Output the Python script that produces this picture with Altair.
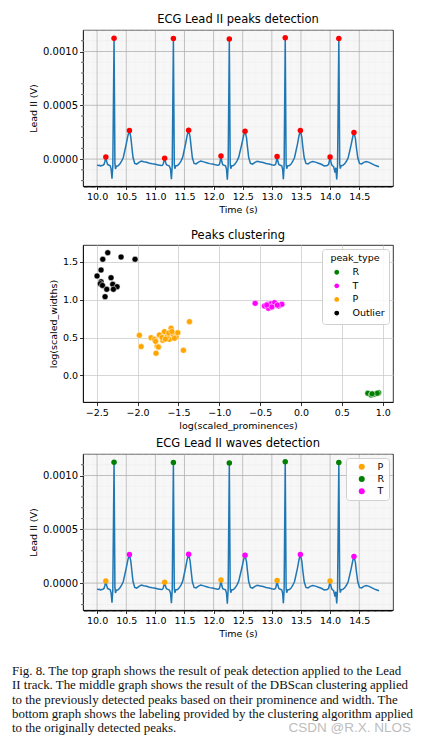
import altair as alt
import pandas as pd
import numpy as np

# ---------------- data ----------------
# ECG Lead II trace: (time s, value in microvolts)
ecg_points = [
    (10.000, -56), (10.020, -60), (10.040, -58), (10.060, -64), (10.080, -60), (10.100, -58),
    (10.120, -48), (10.135, -20), (10.150, 19), (10.165, -22), (10.180, -50), (10.200, -55),
    (10.225, -62), (10.240, -90), (10.256, -182), (10.270, -60), (10.291, 1124), (10.306, -40),
    (10.316, -92), (10.330, -66), (10.360, -62), (10.390, -46), (10.420, -20), (10.450, 15),
    (10.500, 140), (10.530, 220), (10.555, 266), (10.580, 200), (10.595, 120), (10.617, 15),
    (10.646, -40), (10.680, -46), (10.720, -30), (10.760, -18), (10.800, -24), (10.850, -30),
    (10.900, -38), (10.950, -44), (11.000, -48), (11.050, -54), (11.100, -60),
    (11.120, -58), (11.135, -46), (11.148, -18), (11.160, 9), (11.173, -25), (11.190, -52),
    (11.215, -58), (11.240, -64), (11.260, -92), (11.276, -186), (11.290, -62), (11.310, 1120),
    (11.325, -42), (11.335, -90), (11.350, -64), (11.380, -60), (11.410, -44), (11.440, -18),
    (11.470, 18), (11.520, 145), (11.548, 225), (11.572, 269), (11.597, 205), (11.612, 125),
    (11.635, 15), (11.665, -40), (11.700, -44), (11.740, -28), (11.780, -18), (11.830, -26),
    (11.880, -34), (11.930, -42), (11.980, -46), (12.030, -52), (12.070, -56),
    (12.090, -55), (12.103, -44), (12.115, -14), (12.127, 28), (12.140, -20), (12.157, -52),
    (12.180, -58), (12.205, -62), (12.222, -95), (12.236, -192), (12.250, -60), (12.270, 1116),
    (12.285, -44), (12.295, -90), (12.310, -64), (12.340, -60), (12.370, -44), (12.400, -18),
    (12.430, 16), (12.485, 140), (12.515, 218), (12.540, 260), (12.565, 200), (12.580, 120),
    (12.603, 14), (12.633, -40), (12.670, -46), (12.710, -30), (12.750, -20), (12.800, -26),
    (12.850, -32), (12.900, -40), (12.950, -46), (13.000, -52), (13.040, -56),
    (13.055, -54), (13.067, -44), (13.079, -14), (13.090, 25), (13.103, -20), (13.120, -50),
    (13.145, -58), (13.170, -62), (13.186, -95), (13.198, -188), (13.211, -60), (13.230, 1128),
    (13.245, -44), (13.255, -90), (13.270, -64), (13.300, -60), (13.330, -46), (13.360, -20),
    (13.390, 15), (13.440, 140), (13.468, 222), (13.490, 266), (13.515, 202), (13.530, 122),
    (13.555, 15), (13.585, -40), (13.620, -44), (13.660, -30), (13.700, -22), (13.750, -28),
    (13.800, -38), (13.850, -48), (13.900, -64), (13.950, -60),
    (13.975, -48), (13.988, -16), (14.000, 19), (14.013, -22), (14.030, -56), (14.060, -70),
    (14.085, -124), (14.098, -80), (14.114, -190), (14.128, -60), (14.150, 1120), (14.165, -44),
    (14.175, -88), (14.190, -62), (14.220, -58), (14.250, -44), (14.280, -20), (14.310, 12),
    (14.360, 130), (14.388, 205), (14.410, 248), (14.435, 190), (14.450, 115), (14.475, 12),
    (14.505, -40), (14.540, -44), (14.580, -30), (14.620, -22), (14.670, -30), (14.720, -44),
    (14.780, -60), (14.840, -71),
]

# detected peaks
peak_type = ["P"] * 5 + ["R"] * 5 + ["T"] * 5
peak_time = [10.150, 11.160, 12.127, 13.090, 14.000,
             10.291, 11.310, 12.270, 13.230, 14.150,
             10.555, 11.572, 12.540, 13.490, 14.410]
peak_uv = [19, 9, 28, 25, 19,
           1124, 1120, 1116, 1128, 1120,
           266, 269, 260, 266, 248]

# clustering scatter: log(scaled_prominences), log(scaled_widths)
outlier_pts = [(-2.365, 1.623), (-2.426, 1.536), (-2.202, 1.566), (-2.031, 1.536), (-2.447, 1.394),
               (-2.496, 1.315), (-2.447, 1.239), (-2.456, 1.213), (-2.430, 1.190), (-2.325, 1.292),
               (-2.304, 1.205), (-2.251, 1.173), (-2.377, 1.139), (-2.296, 1.139), (-2.398, 1.041)]
p_pts = [(-1.365, 0.710), (-1.978, 0.530), (-1.957, 0.380), (-1.439, 0.331), (-1.774, 0.292),
         (-1.761, 0.388), (-1.745, 0.375), (-1.835, 0.498), (-1.794, 0.477), (-1.733, 0.534),
         (-1.692, 0.464), (-1.672, 0.578), (-1.610, 0.477), (-1.590, 0.622), (-1.569, 0.543),
         (-1.527, 0.507), (-1.508, 0.565), (-1.640, 0.510), (-1.700, 0.500), (-1.550, 0.490),
         (-1.620, 0.560), (-1.780, 0.450), (-1.660, 0.480), (-1.580, 0.580)]
t_pts = [(-0.561, 0.953), (-0.447, 0.918), (-0.398, 0.887), (-0.406, 0.940), (-0.365, 0.949),
         (-0.333, 0.931), (-0.304, 0.940), (-0.276, 0.918), (-0.235, 0.940), (-0.324, 0.962),
         (-0.357, 0.905), (-0.290, 0.930), (-0.420, 0.930)]
r_pts = [(0.818, -0.238), (0.859, -0.260), (0.892, -0.251), (0.949, -0.229), (0.933, -0.238),
         (0.870, -0.245)]

cluster_order = ["R", "T", "P", "Outlier"]
cluster_colors = ["green", "magenta", "orange", "black"]
wave_order = ["P", "R", "T"]
wave_colors = ["orange", "green", "magenta"]

caption_lines = [
    "Fig. 8.  The top graph shows the result of peak detection applied to the Lead",
    "II track. The middle graph shows the result of the DBScan clustering applied",
    "to the previously detected peaks based on their prominence and width. The",
    "bottom graph shows the labeling provided by the clustering algorithm applied",
    "to the originally detected peaks.",
]
watermark = "CSDN @R.X. NLOS"

# tick values
ecg_x_major = [10.0, 10.5, 11.0, 11.5, 12.0, 12.5, 13.0, 13.5, 14.0, 14.5]
ecg_y_major = [0.0, 0.0005, 0.001]
ecg_x_minor = [v for v in np.round(np.arange(9.78, 15.07, 0.02), 2).tolist()
               if v not in ecg_x_major]
ecg_y_minor = [v for v in np.round(np.arange(-0.0002, 0.00115, 0.0001), 4).tolist()
               if v not in ecg_y_major]
clu_x_ticks = [-2.5, -2.0, -1.5, -1.0, -0.5, 0.0, 0.5, 1.0]
clu_y_ticks = [0.0, 0.5, 1.0, 1.5]

# ---------------- tables ----------------
ecg = pd.DataFrame(ecg_points, columns=["t", "uv"])
ecg["v"] = ecg["uv"] / 1e6
peaks = pd.DataFrame({"t": peak_time, "v": np.array(peak_uv) / 1e6, "type": peak_type})
clu_rows = []
for name, pts in [("R", r_pts), ("T", t_pts), ("P", p_pts), ("Outlier", outlier_pts)]:
    for px, py in pts:
        clu_rows.append({"prom": px, "width": py, "peak_type": name})
clu = pd.DataFrame(clu_rows)
cap = pd.DataFrame({"line": caption_lines, "i": list(range(len(caption_lines)))})
wm = pd.DataFrame({"text": [watermark], "i": [len(caption_lines) - 1]})
gx_minor = pd.DataFrame({"t": ecg_x_minor})
gx_major = pd.DataFrame({"t": ecg_x_major})
gy_minor = pd.DataFrame({"v": ecg_y_minor})
gy_major = pd.DataFrame({"v": ecg_y_major})

W = 310
H1, H2, H3 = 156, 157, 156
SERIF = "Liberation Serif"

XDOM = [9.758, 15.08]
YDOM = [-0.00025, 0.0012]

X_AXIS = alt.Axis(values=ecg_x_major, format=".1f", title="Time (s)", grid=False,
                  tickSize=3.5, labelPadding=2, titlePadding=3, labelFlush=False,
                  labelOverlap=False, labelSeparation=0)
Y_AXIS = alt.Axis(values=ecg_y_major, format=".4f", title="Lead II (V)", grid=False,
                  tickSize=3.5, labelPadding=2, titlePadding=4, labelFlush=False,
                  labelOverlap=False, labelFontSize=10)


def ex():
    return alt.X("t:Q", scale=alt.Scale(domain=XDOM, nice=False, zero=False), axis=X_AXIS)


def ey():
    return alt.Y("v:Q", scale=alt.Scale(domain=YDOM, nice=False, zero=False), axis=Y_AXIS)


def ecg_layers(h):
    return [
        alt.Chart(gx_minor).mark_rule(color="#ebebeb", strokeWidth=0.5).encode(x=ex()),
        alt.Chart(gy_minor).mark_rule(color="#ebebeb", strokeWidth=0.5).encode(y=ey()),
        alt.Chart(gx_major).mark_rule(color="#b0b0b0", strokeWidth=0.8).encode(x=ex()),
        alt.Chart(gy_major).mark_rule(color="#b0b0b0", strokeWidth=0.8).encode(y=ey()),
        alt.Chart(ecg).mark_line(color="#1f77b4", strokeWidth=1.5).encode(x=ex(), y=ey()),
        alt.Chart(gx_minor).mark_rule(color="black", strokeWidth=0.6).encode(
            x=ex(), y=alt.value(h), y2=alt.value(h + 2)),
        alt.Chart(gy_minor).mark_rule(color="black", strokeWidth=0.6).encode(
            y=ey(), x=alt.value(0), x2=alt.value(-2)),
    ]


p1 = alt.layer(
    *ecg_layers(H1),
    alt.Chart(peaks).mark_circle(color="red", size=30, opacity=1).encode(x=ex(), y=ey()),
).properties(width=W, height=H1, title="ECG Lead II peaks detection")

minus = "replace(format(datum.value, '.1f'), '-', '\u2212')"
p2 = alt.Chart(clu).mark_circle(size=36, opacity=1, stroke="white", strokeWidth=0.5).encode(
    x=alt.X("prom:Q", scale=alt.Scale(domain=[-2.668, 1.126], nice=False, zero=False),
            axis=alt.Axis(values=clu_x_ticks, labelExpr=minus, title="log(scaled_prominences)",
                          gridColor="#cccccc", gridWidth=0.8, tickSize=3.5, labelPadding=2,
                          titlePadding=3, labelFlush=False, labelOverlap=False)),
    y=alt.Y("width:Q", scale=alt.Scale(domain=[-0.353, 1.725], nice=False, zero=False),
            axis=alt.Axis(values=clu_y_ticks, labelExpr=minus, title="log(scaled_widths)",
                          gridColor="#cccccc", gridWidth=0.8, tickSize=3.5, labelPadding=2,
                          titlePadding=4, labelFlush=False, labelOverlap=False)),
    color=alt.Color("peak_type:N", scale=alt.Scale(domain=cluster_order, range=cluster_colors),
                    legend=alt.Legend(orient="none", legendX=239, legendY=4, title="peak_type",
                                      titleAnchor="middle", titlePadding=5, padding=4,
                                      symbolOffset=6, labelOffset=11, rowPadding=0.6,
                                      symbolType="circle", symbolSize=40,
                                      strokeColor="#d0d0d0", fillColor="rgba(255,255,255,0.85)",
                                      cornerRadius=3)),
).properties(width=W, height=H2, title="Peaks clustering")

p3 = alt.layer(
    *ecg_layers(H3),
    alt.Chart(peaks).mark_circle(size=30, opacity=1).encode(
        x=ex(), y=ey(),
        color=alt.Color("type:N", scale=alt.Scale(domain=wave_order, range=wave_colors),
                        title=None,
                        legend=alt.Legend(orient="none", legendX=263, legendY=4, padding=4,
                                          symbolOffset=7, labelOffset=11, rowPadding=1.3,
                                          symbolType="circle", symbolSize=36,
                                          strokeColor="#d0d0d0",
                                          fillColor="rgba(255,255,255,0.85)", cornerRadius=3)),
    ),
).properties(width=W, height=H3, title="ECG Lead II waves detection")


def spacer(h):
    return alt.Chart(pd.DataFrame({"s": [0]})).mark_point(opacity=0).encode(
        x=alt.value(0), y=alt.value(0)
    ).properties(width=W, height=h, view={"stroke": "transparent"})


cap_y = alt.Y("i:Q", scale=alt.Scale(domain=[0, 4], reverse=True), axis=None)
caption = alt.layer(
    alt.Chart(cap).mark_text(align="left", baseline="middle", font=SERIF, fontSize=12.9,
                             color="#111111").encode(x=alt.value(-71), y=cap_y, text="line:N"),
    alt.Chart(wm).mark_text(align="right", baseline="middle", font="Liberation Sans",
                            fontSize=13.5, color="#bdbdbd").encode(x=alt.value(328), y=cap_y,
                                                                  text="text:N"),
).properties(width=W, height=57.4, view={"stroke": "transparent"})

chart = alt.vconcat(
    p1, spacer(59), p2, spacer(51.7), p3, spacer(61), caption,
    spacing=0, bounds="flush",
).resolve_scale(x="independent", y="independent", color="independent").properties(
    padding={"left": 3, "top": 5, "right": 2, "bottom": 0}
).configure(
    font="DejaVu Sans"
).configure_axis(
    labelFont="DejaVu Sans", titleFont="DejaVu Sans", labelFontSize=9.5, titleFontSize=9.5,
    labelColor="black", titleColor="black", titleFontWeight="normal",
    domainColor="black", domainWidth=0.8, tickColor="black", tickWidth=0.8,
    labelOverlap=False,
).configure_title(
    font="DejaVu Sans", fontSize=11.5, fontWeight="normal", color="black", offset=4
).configure_legend(
    labelFont="DejaVu Sans", titleFont="DejaVu Sans", labelFontSize=9.5, titleFontSize=9.5,
    titleFontWeight="normal", labelColor="black", titleColor="black"
).configure_view(stroke="black", strokeWidth=0.8)

chart.save("out.html", embed_options={"renderer": "svg", "actions": False})
